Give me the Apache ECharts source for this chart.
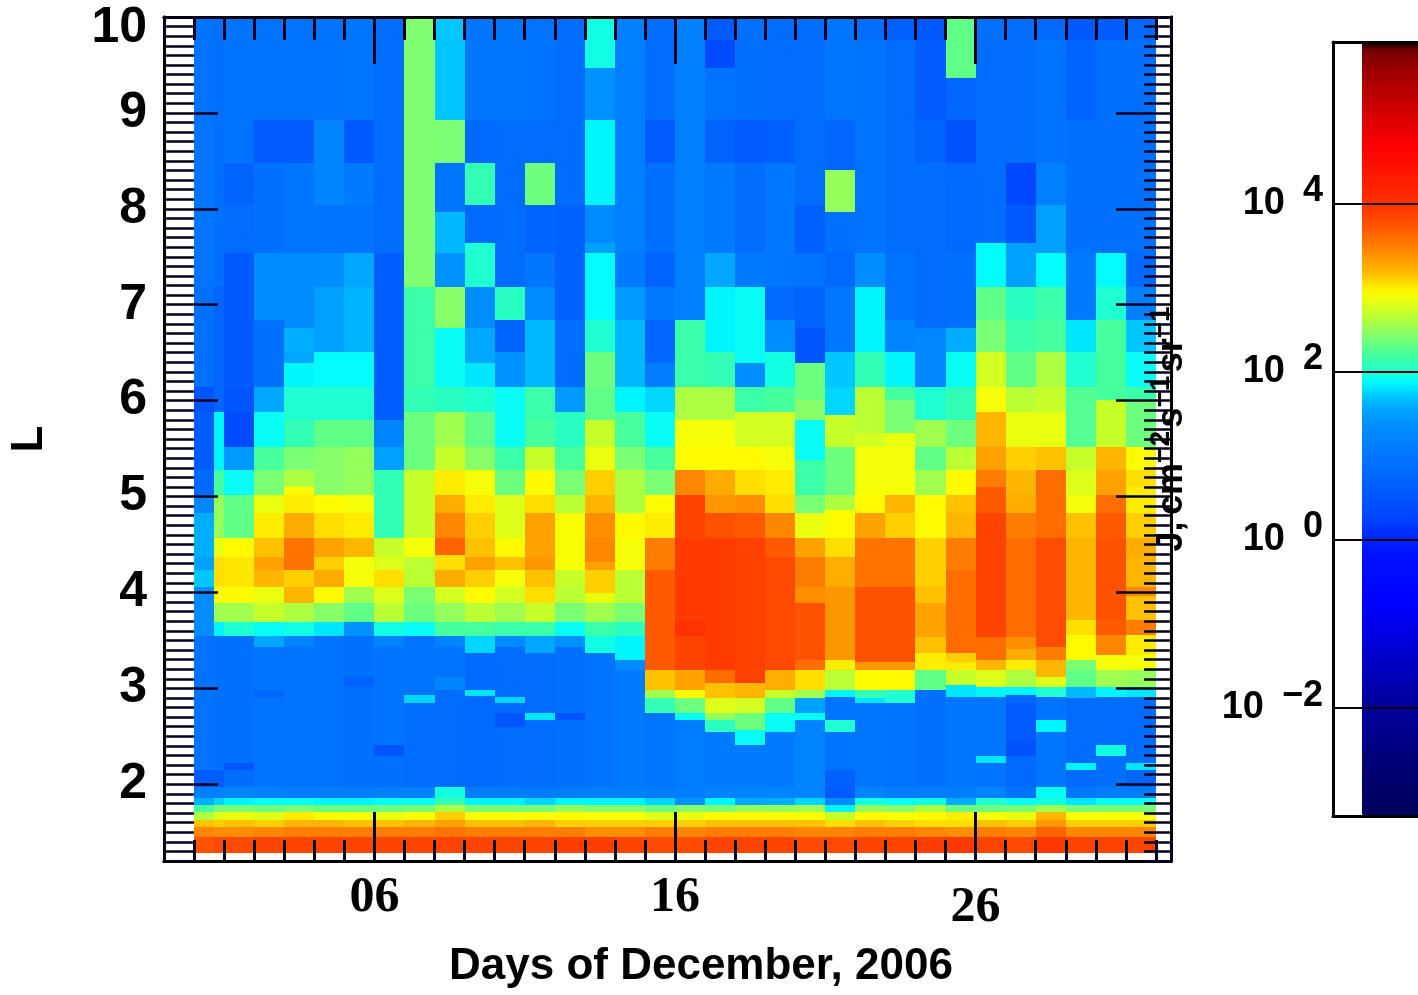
<!DOCTYPE html>
<html><head><meta charset="utf-8">
<style>html,body{margin:0;padding:0;background:#fff;overflow:hidden}#c{width:1418px;height:995px}</style>
<script src="https://cdn.jsdelivr.net/npm/echarts@6/dist/echarts.min.js"></script>
</head><body><div id="c"></div>
<script>
// Left edges of the day columns (the first day has a narrow extra strip).
const dayEdges = [0,.66,1,2,3,4,5,6,7,8,9,10,11,12,13,14,15,16,17,18,19,20,21,22,23,24,25,26,27,28,29,30,31,32];
const lTop = 10;
// Each column: pairs of (lower L edge of a run, log10 J), from the top down to L=1.97.
const c00=[8.93,.95,7.18,1,6.14,.9,5.88,.5,5.28,.6,5.02,.8,4.83,1.25,4.37,1.6,4.23,1.5,4.06,1.7,3.55,1.35,2.15,.95,1.97,.6];
const c0b=[7.18,.9,5.88,.75,5.28,1.85,5.02,2.2,4.57,2.5,4.37,2.85,4.06,3.05,3.89,2.95,3.69,2.55,3.55,1.85,2.15,.9,1.97,.6];
const c01=[8.48,.95,8.04,.7,7.54,.85,6.14,.58,5.88,.5,5.52,.35,5.28,1.45,5.02,1.9,4.57,2.3,4.37,2.95,4.06,3.02,3.89,2.95,3.69,2.55,3.55,2,2.22,.9,2.15,.5,1.97,.85];
const c02=[8.93,.95,8.48,.6,7.54,.9,6.84,1.32,6.14,.9,5.88,1.55,5.52,1.9,5.28,2.2,5.02,2.4,4.83,2.85,4.57,3,4.37,3.15,4.23,3.3,4.06,3.2,3.89,2.85,3.69,2.7,3.55,1.9,3.43,1.55,2.98,.95,2.91,.75,1.97,.95];
const c03=[8.93,.95,8.48,.6,7.54,1,6.76,1.3,6.51,1.6,6.39,1.55,6.14,1.85,5.8,2,5.52,2.1,5.28,2.4,5.1,2.6,5.02,2.95,4.83,3,4.57,3.25,4.23,3.55,4.06,3.1,3.89,3.2,3.69,2.6,3.55,1.95,3.43,1.2,1.97,.95];
const c04=[8.93,.95,8.04,1.2,7.54,.95,7.18,1.35,6.51,1.5,6.14,1.88,5.8,2,5.52,2.3,5.02,2.45,4.83,2.95,4.57,3.05,4.37,3.3,4.23,3.1,4.06,3.25,3.89,2.95,3.69,2.45,3.55,1.8,1.97,.95];
const c05=[8.93,1,8.48,.55,8.04,1.05,7.54,.95,7.18,1.55,6.51,1.63,6.14,1.88,5.8,2,5.52,2.3,5.02,2.5,4.83,2.9,4.57,3,4.37,3.2,4.06,2.9,3.89,2.55,3.69,2.3,3.55,1.4,3.12,.9,3.01,.7,1.97,.9];
const c06=[7.54,.85,5.8,.62,5.52,1.2,5.28,1.5,4.57,2.1,4.37,2.7,4.23,2.8,4.06,3.05,3.89,2.8,3.69,2.65,3.55,1.95,3.43,1.2,2.41,.95,2.29,.5,1.97,.9];
const c07=[7.18,2.42,6.14,2.15,5.88,2.1,5.28,2.35,4.57,2.7,4.37,2.9,4.06,2.65,3.89,2.4,3.69,2.35,3.55,1.9,2.93,.95,2.85,1.75,1.97,.85];
const c08=[8.93,1.7,8.48,2.4,7.97,1,7.54,1.65,7.18,1.4,6.76,2.45,6.14,1.9,5.88,2.05,5.52,2.55,5.28,2.7,5.02,3,4.83,3.25,4.57,3.45,4.39,3.65,4.23,3.05,4.06,3.25,3.89,2.75,3.69,2.5,3.55,2.2,3.43,1.2,3.12,.95,2.98,1.2,1.97,.85];
const c09=[8.93,1,8.48,.8,8.04,2.1,7.64,.8,7.18,2,6.76,1.35,6.39,1.55,6.14,1.8,5.88,2,5.52,2.3,5.28,2.45,5.02,2.9,4.83,3,4.57,3.1,4.37,3.15,4.23,3.3,4.06,3.1,3.89,2.95,3.69,2.65,3.55,2.2,3.37,1.75,2.98,.8,2.92,1.8,1.97,.8];
const c10=[8.93,1,7.18,.85,6.84,2.05,6.51,.7,6.14,1.4,5.52,1.9,5.28,2.15,5.02,2.35,4.57,2.8,4.37,2.95,4.23,3.15,4.06,2.9,3.89,2.75,3.69,2.55,3.55,2.15,3.43,1.3,2.91,.85,2.85,1.75,2.74,.8,2.6,.5,1.97,.85];
const c11=[8.93,.95,8.48,.85,8.04,2.35,7.54,.7,7.18,1,6.84,1.3,6.14,1.65,5.8,2.15,5.52,2.2,5.28,2.7,5.02,2.95,4.83,3.05,4.37,3.3,4.23,3.35,4.06,3.15,3.89,3.05,3.69,2.7,3.55,2.15,3.37,1.55,2.74,.85,2.67,1.8,1.97,.85];
const c12=[8.04,.85,6.84,.68,6.14,.85,5.88,1.45,5.52,2.05,5.28,2.2,5.02,2.4,4.83,2.65,4.23,2.92,4.06,2.7,3.89,2.65,3.69,2.4,3.55,1.9,3.43,1.4,2.74,.9,2.67,.5,1.97,.9];
const c13=[9.47,1.95,8.93,1.4,8.04,1.85,7.64,1.3,7.54,1.5,6.84,1.88,6.51,2,6.14,2.35,5.8,2.3,5.52,2.7,5.28,2.85,5.02,3.1,4.83,3.2,4.57,3.4,4.32,3.45,4.23,3.3,3.99,3.1,3.89,2.85,3.69,2.55,3.55,2.15,3.37,1.95,1.97,.95];
const c14=[7.54,1.15,7.18,1.05,6.84,1.45,6.14,1.65,5.88,1.85,5.52,2.2,5.28,2.4,4.83,2.6,4.57,2.95,4.23,2.9,3.89,2.65,3.69,2.4,3.55,2.05,3.3,1.85,3.19,1.3,1.97,1.05];
const c15=[8.93,.85,8.48,.6,7.54,.9,7.18,.7,6.84,1.05,6.39,.75,6.14,1.1,5.88,1.75,5.52,1.9,5.28,2.2,5.02,2.4,4.83,2.95,4.57,3,4.23,3.5,3.19,3.7,2.98,3.15,2.9,2.55,2.74,2.1,1.97,1];
const c16=[6.84,1.15,6.14,2.15,5.8,2.6,5.52,2.9,5.28,2.95,5.02,3.45,4.57,3.85,3.69,3.92,3.55,4,3.19,3.85,2.98,3.3,2.9,2.95,2.74,2.35,2.67,1.9,1.97,1.1];
const c17=[9.76,.6,9.47,.35,8.93,.95,8.48,.7,7.54,1.05,7.18,1.55,6.51,1.85,6.14,2.1,5.8,2.6,5.52,2.9,5.28,2.95,5.02,3.25,4.83,3.35,4.57,3.75,3.19,3.92,3.06,3.6,2.9,3.15,2.74,2.8,2.67,2.5,2.55,2.05,1.97,1.05];
const c18=[8.93,.9,8.48,.6,7.54,.85,7.18,1.05,6.39,1.9,6.14,1.35,5.88,2.15,5.52,2.75,5.28,2.95,5.02,3.05,4.83,3.4,4.57,3.7,3.06,3.88,2.9,3.2,2.74,2.75,2.57,2.35,2.41,1.9,1.97,1.05];
const c19=[8.93,.85,8.48,.65,7.18,1.02,6.84,.8,6.51,1.35,6.14,1.95,5.88,2.2,5.52,2.75,5.28,2.9,5.02,3,4.83,3.05,4.57,3.45,4.37,3.7,3.19,3.82,2.98,3.25,2.9,2.7,2.74,2.3,2.55,1.9,1.97,1.05];
const c20=[8.04,.85,7.54,.65,7.18,.95,6.76,.7,6.39,.5,6.01,2.35,5.8,2.45,5.38,1.9,5.02,2.15,4.83,2.4,4.57,2.85,4.37,3.3,4.06,3.5,3.89,3.4,3.3,3.75,3.19,3.6,2.98,3.05,2.9,2.55,2.74,1.5,2.67,1.9,1.97,1.2];
const c21=[8.93,1,8.4,.75,7.97,2.5,7.54,.9,7.18,.8,6.51,1.02,6.14,1.7,5.85,1.75,5.52,2.7,5.02,2.35,4.86,2.6,4.57,2.95,4.37,3.05,4.06,3.25,3.3,3.35,3.19,3,2.98,2.65,2.91,1.85,2.67,.95,2.55,2,2.15,.95,1.97,.65];
const c22=[9.76,.85,7.54,.95,7.18,1.35,6.51,1.85,6.14,2.1,5.66,2.65,5.52,2.75,5.02,2.9,4.83,2.95,4.57,3.3,4.06,3.55,3.27,3.75,3.19,3.35,2.98,2.95,2.9,2.1,2.85,1.8,1.97,1];
const c23=[9.76,.65,7.54,.85,6.84,.95,6.51,1.2,6.14,1.85,6.01,2.2,5.66,2.4,5.52,2.85,5.02,2.9,4.83,3.2,4.57,3.1,4.06,3.55,3.27,3.75,3.19,3.35,2.98,2.95,2.85,2,1.97,.95];
const c24=[9.76,.55,8.93,.6,8.48,.7,6.76,.85,6.14,1.25,5.8,2,5.52,2.55,5.28,2.3,5.02,2.55,4.57,2.95,4.06,3.1,3.89,3.15,3.54,3.3,3.37,3.15,3.19,3,2.98,2.3,1.97,.9];
const c25=[9.36,2.3,8.93,.75,8.48,.45,7.54,.8,6.76,.9,6.51,1.6,6.14,1.9,5.8,2.1,5.52,2.35,5.28,2.65,5.02,2.95,4.83,3.15,4.57,3.2,4.23,3.5,3.37,3.6,3.27,3.1,3.19,3,3.03,2.7,2.91,1.8,1.97,1];
const c26=[9.76,.9,7.64,.85,7.18,1.88,6.84,2.3,6.51,2.4,6.14,2.75,5.88,2.9,5.52,3.2,5.28,3.3,5.1,3.5,4.83,3.7,3.54,3.85,3.3,3.6,3.19,3.2,3.01,2.8,2.91,1.85,2.29,1,2.22,1.8,1.97,.95];
const c27=[8.48,.85,8.04,.3,7.64,.55,7.18,1.5,6.84,2.05,6.51,2.15,6.14,2.3,5.88,2.65,5.52,2.85,5.28,3.1,5.02,3.2,4.83,3.25,4.57,3.5,3.54,3.6,3.41,3.4,3.3,3.25,3.19,3,3.01,2.6,2.93,1.85,2.85,.75,2.45,.6,2.29,.45,1.97,.8];
const c28=[9.76,.8,8.48,.95,8.04,1.15,7.54,1.5,7.18,1.88,6.84,2.15,6.51,2.2,6.14,2.6,5.88,2.7,5.52,2.85,5.28,3.15,4.57,3.6,3.43,3.78,3.3,3.5,3.12,3.2,3.01,2.8,2.91,2,2.67,.95,2.55,1.85,1.97,1];
const c29=[9.76,.55,8.93,.7,7.54,.9,6.84,1.05,6.51,1.8,6.14,2,5.52,2.25,5.28,2.7,5.02,2.8,4.83,2.9,4.57,3.15,3.71,3.2,3.56,3.05,3.3,2.95,3.19,2.4,3.01,2.3,2.9,1.65,2.22,.85,2.15,1.85,1.97,.8];
const c30=[9.76,.6,7.54,.9,7.18,1.88,6.84,2,6.01,2.2,5.52,2.7,5.28,3.2,5.02,3.3,4.83,3.6,4.57,3.7,3.71,3.75,3.56,3.7,3.35,3.45,3.19,2.9,3.01,2.55,2.91,1.85,2.41,.85,2.29,1.95,1.97,.9];
const c31=[9.76,.8,7.54,.9,7.18,.8,6.84,1.15,6.51,1.7,6.14,1.9,6.01,2.15,5.52,2.35,5.28,2.95,5.1,3.05,4.83,3,4.57,3.1,4.37,3.25,4.06,3.2,3.96,3.45,3.71,3.15,3.56,3.5,3.35,3,3.19,2.9,3.01,2.5,2.91,1.8,2.22,.85,2.15,1.8,1.97,.75];
const columns = [c00,c0b,c01,c02,c03,c04,c05,c06,c07,c08,c09,c10,c11,c12,c13,c14,c15,c16,c17,c18,c19,c20,c21,c22,c23,c24,c25,c26,c27,c28,c29,c30,c31];
// Inner radiation belt at the bottom: lower L edges of the rows, then one row of values per column.
const beltEdges = [1.86,1.78,1.71,1.63,1.55,1.45,1.28];
const belt = [
[1.15,1.6,2.2,2.6,3.15,3.45,3.75],[1.15,1.75,2.4,2.8,3.1,3.4,3.8],[1.2,1.85,2.4,2.85,3.15,3.4,3.8],[1.15,1.9,2.35,2.8,3.1,3.45,3.85],
[1.1,1.9,2.4,3,3.2,3.5,3.85],[1.1,1.85,2.35,2.9,3.2,3.5,3.85],[1.1,1.85,2.35,2.9,3.15,3.5,3.85],[1.15,1.9,2.35,2.85,3.15,3.5,3.85],
[1.15,1.9,2.4,2.9,3.2,3.5,3.85],[1.95,2.1,2.6,3.1,3.3,3.55,3.85],[1.1,1.85,2.4,2.9,3.15,3.5,3.85],[1.1,1.85,2.4,2.9,3.15,3.5,3.85],
[1.05,1.75,2.4,2.9,3.2,3.5,3.85],[1.1,1.85,2.5,2.95,3.1,3.5,3.9],[1.15,1.85,2.45,2.9,3.1,3.4,3.9],[1.15,1.85,2.45,2.9,3.1,3.4,3.85],
[1.1,1.75,2.35,2.8,3.1,3.5,3.8],[1.1,1.4,2.45,2.85,3.1,3.45,3.8],[1.2,1.85,2.4,2.95,3.15,3.5,3.85],[1.2,1.55,2.5,2.95,3.15,3.5,3.85],
[1.2,1.6,2.5,2.95,3.15,3.5,3.85],[1.2,1.75,2.55,2.9,3.15,3.45,3.8],[.6,1.3,1.85,2.7,3.05,3.45,3.8],[1.2,1.95,2.5,2.95,3.15,3.5,3.85],
[1.1,1.9,2.45,2.9,3.1,3.5,3.85],[1.1,1.95,2.6,2.95,3.05,3.45,3.9],[1.1,1.6,2.35,3,3.05,3.4,3.95],[1.2,2,2.35,2.9,3.15,3.5,3.85],
[.95,1.9,2.4,2.85,3.1,3.45,3.8],[1.9,1.95,2.55,3.2,3.35,3.65,3.95],[1,1.8,2.4,2.9,3.1,3.45,3.85],[1.1,1.9,2.4,2.9,3.1,3.45,3.85],[1.1,1.9,2.4,2.9,3.1,3.45,3.85]];
// Axes
const xRange = [-1, 32.5], lRange = [1.2, 10], barRange = [-3.29, 5.92];
const majorDays = [6, 16, 26], majorL = [2,3,4,5,6,7,8,9,10], barExps = [-2, 0, 2, 4];
// Colour table of the bar: log10 J and colour.
const barStops = [[-3.29,'#00005a'],[-1.88,'#0000a0'],[-.8,'#0000ff'],[-.18,'#0010ff'],[.3,'#0048ff'],[.9,'#0070ff'],[1.39,'#0090ff'],[1.64,'#00b4ff'],[1.88,'#00ffff'],[2,'#20ffd0'],[2.18,'#40ffa0'],[2.42,'#80ff70'],[2.67,'#c0ff30'],[2.94,'#ffff00'],[3.15,'#ffc000'],[3.39,'#ff9000'],[3.76,'#ff5000'],[4,'#ff3000'],[4.67,'#ff0000'],[5.27,'#c00000'],[5.7,'#8b0000'],[5.92,'#600000']];

function rampColours(n){
  const out=[];
  for(let i=0;i<n;i++){
    const v=barRange[0]+(barRange[1]-barRange[0])*i/(n-1);
    let k=0; while(k<barStops.length-2 && v>barStops[k+1][0]) k++;
    const [a,ca]=barStops[k],[b,cb]=barStops[k+1];
    out.push(echarts.color.lerp((v-a)/(b-a),[ca,cb]));
  }
  return out;
}
const cells=[];
columns.forEach((col,i)=>{
  const x0=dayEdges[i],x1=dayEdges[i+1]; let top=lTop;
  for(let k=0;k<col.length;k+=2){cells.push([x0,x1,top,col[k],col[k+1]]);top=col[k];}
  beltEdges.forEach((e,k)=>{cells.push([x0,x1,top,e,belt[i][k]]);top=e;});
});
const SANS='"Liberation Sans"', NARROW='"Liberation Sans Narrow"';
const line={show:true,onZero:false,lineStyle:{color:'#000',width:3}};
function xAx(grid,pos,o){return Object.assign({type:'value',gridIndex:grid,position:pos,min:xRange[0],max:xRange[1],z:5,axisLine:line,splitLine:{show:false},axisLabel:{show:false},axisTick:{show:false}},o||{});}
function yAx(grid,pos,o){return Object.assign({type:'value',gridIndex:grid,position:pos,min:lRange[0],max:lRange[1],z:5,axisLine:line,splitLine:{show:false},axisLabel:{show:false},axisTick:{show:false}},o||{});}
const tick=(len,w,vals)=>Object.assign({show:true,inside:true,length:len,lineStyle:{color:'#02001e',width:w}},vals?{customValues:vals}:{});
const sup={fontFamily:SANS,fontWeight:'bold',fontSize:36,padding:[0,0,24,0],color:'#000'};
const base={fontFamily:SANS,fontWeight:'bold',fontSize:38,color:'#000'};
const uBase={fontFamily:SANS,fontWeight:'bold',fontSize:36,color:'#000'};
const uSup={fontFamily:SANS,fontWeight:'bold',fontSize:28,padding:[0,0,22,0],color:'#000'};
const option={
  animation:false,backgroundColor:'#fff',
  title:{text:'Days of December, 2006',left:449,top:945,padding:0,textStyle:{fontFamily:SANS,fontWeight:'bold',fontSize:44,color:'#000'}},
  grid:[{left:157,top:17,width:1014,height:844},{left:1333,top:42,width:150,height:774}],
  xAxis:[
    xAx(0,'bottom',{axisTick:tick(49,3,majorDays),axisLabel:{show:true,customValues:majorDays,margin:12,formatter:v=>v===16?'{h|16}':v===26?'{l|26}':'{n|'+(v<10?'0':'')+v+'}',
      rich:{n:{fontFamily:NARROW,fontWeight:'bold',fontSize:50,color:'#000'},h:{fontFamily:NARROW,fontWeight:'bold',fontSize:50,color:'#000',padding:[0,0,4,0]},l:{fontFamily:NARROW,fontWeight:'bold',fontSize:50,color:'#000',padding:[10,0,0,0]}}}}),
    xAx(0,'bottom',{interval:1,axisTick:tick(21,3)}),
    xAx(0,'top',{axisTick:tick(47,3,majorDays)}),
    xAx(0,'top',{interval:1,axisTick:tick(23,3)}),
    {type:'value',gridIndex:1,position:'bottom',min:0,max:1,z:6,axisLine:line,axisTick:{show:false},axisLabel:{show:false},splitLine:{show:false}},
    {type:'value',gridIndex:1,position:'top',min:0,max:1,z:6,axisLine:line,axisTick:{show:false},axisLabel:{show:false},splitLine:{show:false}}
  ],
  yAxis:[
    yAx(0,'left',{name:'L',nameLocation:'middle',nameGap:112,nameRotate:90,nameTextStyle:{fontFamily:SANS,fontWeight:'bold',fontSize:44,color:'#000'},
      axisTick:tick(54,2.5,majorL),axisLabel:{show:true,customValues:majorL,margin:17,formatter:v=>v===10?'{t|10}':'{n|'+v+'}',
      rich:{n:{fontFamily:SANS,fontWeight:'bold',fontSize:50,color:'#000'},t:{fontFamily:SANS,fontWeight:'bold',fontSize:50,color:'#000',padding:[22,0,0,0]}}}}),
    yAx(0,'left',{interval:.1,axisTick:tick(30,2.5)}),
    yAx(0,'right',{axisTick:tick(55,2.5,majorL)}),
    yAx(0,'right',{interval:.1,axisTick:tick(27,2.5)}),
    {type:'value',gridIndex:1,position:'left',min:barRange[0],max:barRange[1],z:6,axisLine:line,splitLine:{show:false},
      name:'{b|J,}  {b|cm}{s|−2} {b|s}{s|−1} {b|sr}{s|−1}',nameLocation:'middle',nameGap:136,nameRotate:90,nameTextStyle:{rich:{b:uBase,s:uSup}},
      axisTick:{show:true,inside:true,length:100,customValues:barExps,lineStyle:{color:'#100010',width:2}},
      axisLabel:{show:true,customValues:barExps,margin:10,formatter:v=>'{b|10}{g| }{s|'+(v<0?'−':'')+Math.abs(v)+'}',rich:{b:base,g:{fontSize:v=>20,width:v=>18},s:sup}}}
  ],
  visualMap:{type:'continuous',seriesIndex:0,dimension:4,min:barRange[0],max:barRange[1],left:1362,top:42,itemWidth:60,itemHeight:774,padding:0,calculable:false,hoverLink:false,text:[],z:3,inRange:{color:rampColours(185)}},
  series:[{type:'custom',coordinateSystem:'cartesian2d',xAxisIndex:0,yAxisIndex:0,z:1,silent:true,
    encode:{x:[0,1],y:[2,3]},data:cells,
    renderItem:(p,api)=>{
      const a=api.coord([api.value(0),api.value(2)]),b=api.coord([api.value(1),api.value(3)]);
      const x=Math.round(a[0]),y=Math.round(a[1]);
      return {type:'rect',shape:{x,y,width:Math.round(b[0])-x,height:Math.round(b[1])-y},style:{fill:api.visual('color')}};
    }}]
};
option.yAxis[4].axisLabel.rich.g={fontSize:20,width:18};
echarts.init(document.getElementById('c'),null,{renderer:'canvas'}).setOption(option);
</script></body></html>
